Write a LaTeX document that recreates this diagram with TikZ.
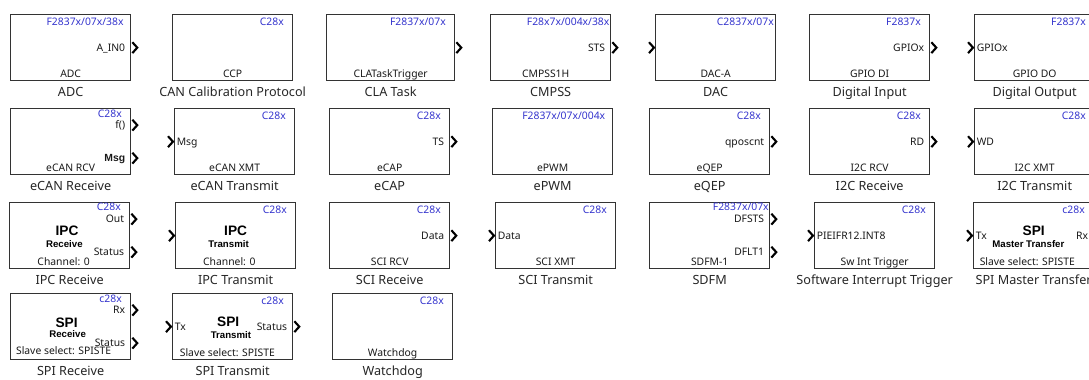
\documentclass[tikz,border=0pt]{standalone}
\usepackage{fontspec}
\setmainfont{Noto Sans}
\newfontfamily\boldfam{Liberation Sans}
\usepackage{tikz}

\definecolor{famblue}{RGB}{52,52,205}

\newcommand{\simblock}[8]{%
  \node[blk] (#1) at (#2,#3) {};
  \node[famtxt,#4] (#1-fam) at ([shift={(-5.2pt,-6.6pt)}]#1.north east) {#5};
  \node[masktxt,#6] (#1-mask) at ([yshift=2.3pt]#1.south) {#7};
  \node[blkcap] (#1-cap) at ([yshift=-8.7pt]#1.south) {#8};}
\newcommand{\outport}[4]{%
  \coordinate (#1-#2) at ([yshift=#3]#1.east);
  \draw[chev] ([shift={(0.6pt,3.1pt)}]#1-#2) -- ++(2.8pt,-3.1pt) -- ++(-2.8pt,-3.1pt);
  \node[pinr] (#1-#2-lbl) at ([shift={(-3.3pt,-2.1pt)}]#1-#2) {#4};}
\newcommand{\inport}[4]{%
  \coordinate (#1-#2) at ([yshift=#3]#1.west);
  \draw[chev] ([shift={(-3.4pt,3.1pt)}]#1-#2) -- ++(2.8pt,-3.1pt) -- ++(-2.8pt,-3.1pt);
  \node[pinl] (#1-#2-lbl) at ([shift={(1.4pt,-2.1pt)}]#1-#2) {#4};}

\begin{document}
\begin{tikzpicture}[x=0.02cm, y=-0.02cm,
    blk/.style={draw=black!80, line width=0.75pt, anchor=north west,
      minimum width=2.4cm, minimum height=1.32cm, inner sep=0pt},
    famtxt/.style={anchor=base east, inner sep=0pt, text=famblue, font=\fontsize{5.9}{6}\selectfont},
    masktxt/.style={anchor=base, inner sep=0pt, text=black!90, font=\fontsize{5.9}{6}\selectfont},
    blkcap/.style={anchor=base, inner sep=0pt, text=black!85, font=\fontsize{7.2}{8}\selectfont},
    pinr/.style={anchor=base east, inner sep=0pt, text=black!90, font=\fontsize{5.9}{6}\selectfont},
    pinl/.style={anchor=base west, inner sep=0pt, text=black!90, font=\fontsize{5.9}{6}\selectfont},
    ttl/.style={anchor=base, inner sep=0pt, font=\boldfam\bfseries\fontsize{7.8}{8}\selectfont},
    subttl/.style={anchor=base, inner sep=0pt, font=\boldfam\bfseries\fontsize{5.5}{6}\selectfont},
    chev/.style={line width=1.2pt, black}]
  \useasboundingbox (0,0) rectangle (1089,379);
  \clip (0,0) rectangle (1089,379);

  \simblock{adc}{10}{14}{xshift=1pt}{F2837x/07x/38x}{}{ADC}{ADC}
  \outport{adc}{o}{0pt}{A\_IN0}
  \simblock{ccp}{172}{14}{}{C28x}{}{CCP}{CAN Calibration Protocol}
  \node[blk, minimum width=2.56cm] (cla) at (326,14) {};
  \node[famtxt] (cla-fam) at ([shift={(-5.2pt,-6.6pt)}]cla.north east) {F2837x/07x};
  \node[masktxt] (cla-mask) at ([yshift=2.3pt]cla.south) {CLATaskTrigger};
  \node[blkcap] (cla-cap) at ([yshift=-8.7pt]cla.south) {CLA Task};
  \outport{cla}{o}{0pt}{}
  \simblock{cmpss}{490}{14}{xshift=4.3pt}{F28x7x/004x/38x}{xshift=-2.8pt}{CMPSS1H}{CMPSS}
  \outport{cmpss}{o}{0pt}{STS}
  \simblock{dac}{655}{14}{xshift=4pt}{C2837x/07x}{}{DAC-A}{DAC}
  \inport{dac}{i}{0pt}{}
  \simblock{dgin}{809}{14}{}{F2837x}{}{GPIO DI}{Digital Input}
  \outport{dgin}{o}{0pt}{GPIOx}
  \simblock{dgout}{974}{14}{}{F2837x}{}{GPIO DO}{Digital Output}
  \inport{dgout}{i}{0pt}{GPIOx}

  \simblock{ecanrx}{10}{108}{yshift=1pt}{C28x}{}{eCAN RCV}{eCAN Receive}
  \outport{ecanrx}{o1}{0.33cm}{f()}
  \outport{ecanrx}{o2}{-0.33cm}{{\boldfam\bfseries Msg}}
  \simblock{ecantx}{174}{108}{}{C28x}{}{eCAN XMT}{eCAN Transmit}
  \inport{ecantx}{i}{0pt}{Msg}
  \simblock{ecap}{329}{108}{}{C28x}{}{eCAP}{eCAP}
  \outport{ecap}{o}{0pt}{TS}
  \simblock{epwm}{492}{108}{xshift=0.8pt}{F2837x/07x/004x}{}{ePWM}{ePWM}
  \simblock{eqep}{649}{108}{}{C28x}{}{eQEP}{eQEP}
  \outport{eqep}{o}{0pt}{qposcnt}
  \simblock{i2crx}{809}{108}{}{C28x}{}{I2C RCV}{I2C Receive}
  \outport{i2crx}{o}{0pt}{RD}
  \simblock{i2ctx}{974}{108}{}{C28x}{}{I2C XMT}{I2C Transmit}
  \inport{i2ctx}{i}{0pt}{WD}

  \simblock{ipcrx}{9}{202}{yshift=1.5pt}{C28x}{xshift=-3.4pt}{Channel: 0}{IPC Receive}
  \outport{ipcrx}{o1}{0.33cm}{Out}
  \outport{ipcrx}{o2}{-0.33cm}{Status}
  \node[ttl] (ipcrx-ttl) at ([xshift=-1.5pt]ipcrx.center) {IPC};
  \node[subttl] (ipcrx-sub) at ([shift={(-3pt,-6.8pt)}]ipcrx.center) {Receive};
  \simblock{ipctx}{175}{202}{}{C28x}{xshift=-3.6pt}{Channel: 0}{IPC Transmit}
  \inport{ipctx}{i}{0pt}{}
  \node[ttl] (ipctx-ttl) at (ipctx.center) {IPC};
  \node[subttl] (ipctx-sub) at ([shift={(-4pt,-6.8pt)}]ipctx.center) {Transmit};
  \simblock{scirx}{329}{202}{}{C28x}{}{SCI RCV}{SCI Receive}
  \outport{scirx}{o}{0pt}{Data}
  \simblock{scitx}{495}{202}{}{C28x}{}{SCI XMT}{SCI Transmit}
  \inport{scitx}{i}{0pt}{Data}
  \simblock{sdfm}{649}{202}{xshift=4.5pt,yshift=1.5pt}{F2837x/07x}{}{SDFM-1}{SDFM}
  \outport{sdfm}{o1}{0.33cm}{DFSTS}
  \outport{sdfm}{o2}{-0.33cm}{DFLT1}
  \simblock{swi}{814}{202}{}{C28x}{}{Sw Int Trigger}{Software Interrupt Trigger}
  \inport{swi}{i}{0pt}{PIEIFR12.INT8}
  \simblock{spim}{973}{202}{}{c28x}{xshift=-3.6pt}{Slave select: SPISTE}{SPI Master Transfer}
  \inport{spim}{i}{0pt}{Tx}
  \outport{spim}{o}{0pt}{Rx}
  \node[ttl] (spim-ttl) at (spim.center) {SPI};
  \node[subttl] (spim-sub) at ([shift={(-3pt,-6.8pt)}]spim.center) {Master Transfer};

  \simblock{spirx}{10}{293}{yshift=1pt}{c28x}{xshift=-4pt,yshift=1.1pt}{Slave select: SPISTE}{SPI Receive}
  \outport{spirx}{o1}{0.33cm}{Rx}
  \outport{spirx}{o2}{-0.33cm}{Status}
  \node[ttl] (spirx-ttl) at ([shift={(-2.3pt,-0.6pt)}]spirx.center) {SPI};
  \node[subttl] (spirx-sub) at ([shift={(-1.7pt,-6.2pt)}]spirx.center) {Receive};
  \simblock{spitx}{172}{293}{}{c28x}{xshift=-3pt}{Slave select: SPISTE}{SPI Transmit}
  \inport{spitx}{i}{0pt}{Tx}
  \outport{spitx}{o}{0pt}{Status}
  \node[ttl] (spitx-ttl) at ([xshift=-2.5pt]spitx.center) {SPI};
  \node[subttl] (spitx-sub) at ([shift={(-1pt,-6.8pt)}]spitx.center) {Transmit};
  \simblock{wdog}{332}{293}{}{C28x}{}{Watchdog}{Watchdog}
\end{tikzpicture}
\end{document}
